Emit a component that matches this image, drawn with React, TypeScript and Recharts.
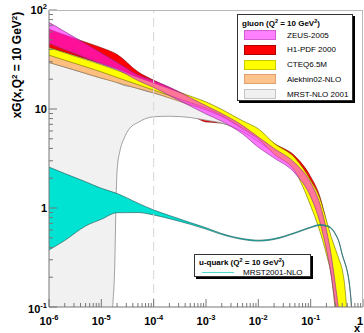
import React from 'react';
import { ComposedChart, Area, XAxis, YAxis, ReferenceLine } from 'recharts';

// gluon xG(x, Q^2 = 10 GeV^2): bands (low / high edge)
const gluonX = [1e-6, 2e-6, 5e-6, 1e-5, 2e-5, 5e-5, 1e-4, 2e-4, 5e-4, 1e-3, 2e-3, 5e-3, 1e-2, 2e-2, 5e-2, 0.1, 0.15, 0.2, 0.25, 0.3, 0.35, 0.4, 0.45, 0.5];

const zeusLow = [46, 39.8, 32.9, 28.5, 25, 19.4, 16.5, 13.7, 10.7, 8.9, 7.5, 5.6, 4.1, 3.2, 2.25, 1.3, 0.72, 0.38, 0.2, 0.095, 0.04, 0.02, 0.01, 0.005];
const zeusHigh = [75, 60.5, 45.6, 36.8, 29.5, 22.1, 19.3, 16.6, 13.0, 10.8, 9.0, 6.8, 5.2, 4.0, 2.85, 1.8, 1.1, 0.6, 0.32, 0.16, 0.085, 0.04, 0.02, 0.01];

const h1Low = [42, 37.5, 32.2, 28.8, 25.5, 20.5, 15.8, 12.7, 9.0, 7.4, 7.2, 6.0, 4.8, 3.7, 2.6, 1.45, 0.85, 0.45, 0.24, 0.11, 0.05, 0.02, 0.01, 0.005];
const h1High = [64, 56, 47.3, 41.6, 35.5, 23.8, 19.5, 16.5, 13.2, 11.2, 9.4, 7.3, 6.0, 4.5, 3.35, 2.07, 1.3, 0.72, 0.4, 0.2, 0.1, 0.04, 0.02, 0.01];

const cteqLow = [35, 31.1, 26.7, 23.7, 20.8, 17.6, 15.5, 13.7, 11.6, 10.2, 8.6, 6.4, 5.0, 3.5, 2.35, 1.05, 0.58, 0.34, 0.2, 0.085, 0.04, 0.02, 0.01, 0.005];
const cteqHigh = [41.5, 36.9, 31.5, 28, 24.6, 20.8, 18.3, 16.0, 13.5, 11.8, 9.9, 7.6, 6.3, 4.5, 3.2, 1.9, 1.25, 0.75, 0.5, 0.38, 0.3, 0.24, 0.16, 0.08];

const alekhinLow = [29.5, 26.5, 22.9, 20.5, 18.5, 16.1, 14.6, 12.9, 11.0, 9.8, 8.4, 6.3, 5.0, 3.6, 2.45, 1.5, 0.92, 0.52, 0.31, 0.19, 0.12, 0.075, 0.04, 0.02];
const alekhinHigh = [37.5, 33.6, 29, 26, 23.1, 19.7, 17.5, 15.5, 13.1, 11.6, 9.7, 7.4, 6.0, 4.3, 3.05, 1.8, 1.15, 0.68, 0.42, 0.26, 0.17, 0.11, 0.07, 0.04];

// MRST gluon has its own x grid (lower edge dives below 0.1 near x ~ 1.7e-5)
const mrstX = [1e-6, 2e-6, 5e-6, 1e-5, 1.5e-5, 1.65e-5, 1.8e-5, 1.9e-5, 2e-5, 2.3e-5, 2.7e-5, 3.5e-5, 5e-5, 7e-5, 1e-4, 2e-4, 5e-4, 1e-3, 2e-3, 5e-3, 1e-2, 2e-2, 5e-2, 0.1, 0.15, 0.2, 0.25, 0.3, 0.35, 0.4, 0.45];
const mrstLow = [0.01, 0.01, 0.01, 0.01, 0.03, 0.1, 0.25, 1.0, 2.4, 3.9, 5.0, 6.4, 7.3, 8.0, 8.35, 8.45, 8.2, 7.7, 7.2, 5.9, 4.7, 3.6, 2.5, 1.45, 0.85, 0.48, 0.27, 0.15, 0.085, 0.05, 0.02];
const mrstHigh = [29.5, 26.5, 22.9, 20.5, 19.5, 19.2, 18.9, 18.7, 18.5, 17.9, 17.3, 16.9, 16.1, 15.2, 14.5, 13.1, 11.4, 10.3, 9.2, 7.0, 5.6, 4.2, 3.0, 1.75, 1.05, 0.6, 0.35, 0.2, 0.12, 0.07, 0.04];

// u-quark, MRST2001-NLO
const uX = [1e-6, 2e-6, 5e-6, 1e-5, 2e-5, 5e-5, 1e-4, 2e-4, 5e-4, 1e-3, 2e-3, 5e-3, 1e-2, 2e-2, 5e-2, 0.1, 0.15, 0.2, 0.25, 0.3, 0.35, 0.4, 0.45, 0.5, 0.55, 0.6, 0.65];
const uLow = [0.377, 0.47, 0.658, 0.769, 0.896, 0.9, 0.85, 0.78, 0.685, 0.612, 0.54, 0.481, 0.463, 0.481, 0.555, 0.631, 0.666, 0.653, 0.614, 0.535, 0.446, 0.337, 0.277, 0.228, 0.168, 0.104, 0.05];
const uHigh = [2.59, 2.23, 1.84, 1.58, 1.4, 1.12, 0.955, 0.84, 0.712, 0.632, 0.552, 0.491, 0.473, 0.491, 0.565, 0.643, 0.68, 0.667, 0.626, 0.545, 0.454, 0.343, 0.283, 0.232, 0.172, 0.106, 0.051];

const gluonNames = ['ZEUS-2005', 'H1-PDF 2000', 'CTEQ6.5M', 'Alekhin02-NLO', 'MRST-NLO 2001'];
const quarkName = 'MRST2001-NLO';

const xDecades = [1e-6, 1e-5, 1e-4, 1e-3, 1e-2, 1e-1, 1];
const yDecades = [0.1, 1, 10, 100];
const minorSteps = [2, 3, 4, 5, 6, 7, 8, 9];

const withMinor = (dec: number[]) =>
  [...dec, ...dec.slice(0, -1).flatMap((d) => minorSteps.map((m) => m * d))].sort((a, b) => a - b);
const xTicks = withMinor(xDecades);
const yTicks = withMinor(yDecades);

const FONT = '"Liberation Sans", Arial, Helvetica, sans-serif';
const AXIS = '#777';

const band = (xs: number[], lo: number[], hi: number[]) => xs.map((x, i) => ({ x, band: [lo[i], hi[i]] }));

const isDecade = (v: number) => Math.abs(Math.log10(v) - Math.round(Math.log10(v))) < 1e-6;

function DecadeText({ v, ...rest }: any) {
  const e = Math.round(Math.log10(v));
  if (e === 0) return <text {...rest}>1</text>;
  if (e === 1) return <text {...rest}>10</text>;
  return (
    <text {...rest}>
      10
      <tspan dy={-5} fontSize={7.5}>
        {String(e)}
      </tspan>
    </text>
  );
}

const XTick = (props: any) => {
  const { x, y, payload } = props;
  const v = payload.value;
  const major = isDecade(v);
  return (
    <g>
      <line x1={x} x2={x} y1={y} y2={y - (major ? 8 : 4)} stroke={AXIS} strokeWidth={1} />
      {major && (
        <DecadeText
          v={v}
          x={v === 1 ? x - 3 : x}
          y={y + 18}
          textAnchor="middle"
          fontFamily={FONT}
          fontWeight="bold"
          fontSize={11}
          fill="#000"
        />
      )}
    </g>
  );
};

const YTick = (props: any) => {
  const { x, y, payload } = props;
  const v = payload.value;
  const major = isDecade(v);
  return (
    <g>
      <line x1={x} x2={x + (major ? 8 : 4)} y1={y} y2={y} stroke={AXIS} strokeWidth={1} />
      {major && (
        <DecadeText
          v={v}
          x={x - 2}
          y={y + (v === 0.1 ? 6 : 4)}
          textAnchor="end"
          fontFamily={FONT}
          fontWeight="bold"
          fontSize={11}
          fill="#000"
        />
      )}
    </g>
  );
};

const swatches = [
  { fill: '#ff80ff', border: '#d060d0' },
  { fill: '#ff0000', border: '#b00000' },
  { fill: '#ffff00', border: '#c8c800' },
  { fill: '#ffc48c', border: '#e0a070' },
  { fill: '#f0f0f0', border: '#c4c4c4' },
];

export default function App() {
  return (
    <div style={{ position: 'relative', width: 364, height: 333, background: '#fff', fontFamily: FONT }}>
      <style>{'body{margin:0}'}</style>
      <ComposedChart width={364} height={333} margin={{ top: 10, right: 1, bottom: 0, left: 0 }}>
        <XAxis
          dataKey="x"
          type="number"
          scale="log"
          domain={[1e-6, 1]}
          allowDataOverflow
          ticks={xTicks}
          interval={0}
          tick={<XTick />}
          tickLine={false}
          tickSize={0}
          tickMargin={0}
          height={26}
          axisLine={{ stroke: AXIS }}
        />
        <YAxis
          type="number"
          scale="log"
          domain={[0.1, 100]}
          allowDataOverflow
          ticks={yTicks}
          interval={0}
          tick={<YTick />}
          tickLine={false}
          tickSize={0}
          tickMargin={0}
          width={49}
          axisLine={{ stroke: AXIS }}
        />
        <Area
          data={band(gluonX, h1Low, h1High)}
          dataKey="band"
          type="monotone"
          fill="#ff0000"
          fillOpacity={1}
          stroke="#7a0000"
          strokeWidth={0.6}
          dot={false}
          activeDot={false}
          isAnimationActive={false}
        />
        <Area
          data={band(mrstX, mrstLow, mrstHigh)}
          dataKey="band"
          type="monotone"
          fill="#f1f1f1"
          fillOpacity={1}
          stroke="#8a8a8a"
          strokeWidth={0.8}
          dot={false}
          activeDot={false}
          isAnimationActive={false}
        />
        <ReferenceLine x={1e-4} stroke="#d6d6d6" strokeWidth={1} strokeDasharray="9 5" />
        <Area
          data={band(gluonX, alekhinLow, alekhinHigh)}
          dataKey="band"
          type="monotone"
          fill="#fdbf80"
          fillOpacity={1}
          stroke="#8a6a40"
          strokeWidth={0.6}
          dot={false}
          activeDot={false}
          isAnimationActive={false}
        />
        <Area
          data={band(gluonX, cteqLow, cteqHigh)}
          dataKey="band"
          type="monotone"
          fill="#ffff00"
          fillOpacity={1}
          stroke="#6a6a00"
          strokeWidth={0.6}
          dot={false}
          activeDot={false}
          isAnimationActive={false}
        />
        <Area
          data={band(gluonX, zeusLow, zeusHigh)}
          dataKey="band"
          type="monotone"
          fill="#ff1aff"
          fillOpacity={0.6}
          stroke="#803080"
          strokeWidth={0.6}
          dot={false}
          activeDot={false}
          isAnimationActive={false}
        />
        <Area
          data={band(uX, uLow, uHigh)}
          dataKey="band"
          type="monotone"
          fill="#00e2d2"
          fillOpacity={1}
          stroke="#2d6464"
          strokeWidth={0.7}
          dot={false}
          activeDot={false}
          isAnimationActive={false}
        />
      </ComposedChart>

      {/* frame top/right */}
      <div
        style={{
          position: 'absolute',
          left: 49,
          top: 10,
          width: 314,
          height: 297,
          borderTop: '1px solid #b8b8b8',
          borderRight: '1px solid #b8b8b8',
          boxSizing: 'border-box',
          pointerEvents: 'none',
        }}
      />

      <svg width={364} height={333} style={{ position: 'absolute', left: 0, top: 0, pointerEvents: 'none' }}>
        <text
          transform="translate(21,65) rotate(-90)"
          textAnchor="middle"
          fontFamily={FONT}
          fontWeight="bold"
          fontSize={12}
        >
          xG(x,Q
          <tspan dy={-4} fontSize={8}>2</tspan>
          <tspan dy={4}> = 10 GeV</tspan>
          <tspan dy={-4} fontSize={8}>2</tspan>
          <tspan dy={4}>)</tspan>
        </text>
        <text x={357} y={332} textAnchor="middle" fontFamily={FONT} fontWeight="bold" fontSize={11}>
          x
        </text>
      </svg>

      {/* gluon legend */}
      <div
        style={{
          position: 'absolute',
          left: 237,
          top: 14,
          width: 116,
          height: 87,
          border: '1px solid #333',
          boxShadow: '2px 2px 0 #000',
          background: '#fff',
          boxSizing: 'border-box',
        }}
      >
        <div style={{ position: 'absolute', left: 4, top: 3, fontSize: 8, fontWeight: 'bold', whiteSpace: 'nowrap' }}>
          gluon (Q<sup style={{ fontSize: 5.5, verticalAlign: 3 }}>2</sup> = 10 GeV
          <sup style={{ fontSize: 5.5, verticalAlign: 3 }}>2</sup>)
        </div>
        {gluonNames.map((name, i) => (
          <React.Fragment key={name}>
            <div
              style={{
                position: 'absolute',
                left: 6,
                top: 15 + i * 14.8,
                width: 32,
                height: 10,
                background: swatches[i].fill,
                border: `1px solid ${swatches[i].border}`,
                boxSizing: 'border-box',
              }}
            />
            <div
              style={{
                position: 'absolute',
                left: 49,
                top: 14.5 + i * 14.8,
                fontSize: 8,
                lineHeight: '11px',
                whiteSpace: 'nowrap',
              }}
            >
              {name}
            </div>
          </React.Fragment>
        ))}
      </div>

      {/* u-quark legend */}
      <div
        style={{
          position: 'absolute',
          left: 194,
          top: 254,
          width: 117,
          height: 23,
          border: '1px solid #333',
          boxShadow: '2px 2px 0 #000',
          background: '#fff',
          boxSizing: 'border-box',
        }}
      >
        <div style={{ position: 'absolute', left: 4, top: 1.5, fontSize: 8, fontWeight: 'bold', whiteSpace: 'nowrap' }}>
          u-quark (Q<sup style={{ fontSize: 5.5, verticalAlign: 3 }}>2</sup> = 10 GeV
          <sup style={{ fontSize: 5.5, verticalAlign: 3 }}>2</sup>)
        </div>
        <div style={{ position: 'absolute', left: 7, top: 16.5, width: 32, height: 1, background: '#4fd8d0' }} />
        <div style={{ position: 'absolute', left: 48, top: 12, fontSize: 8, lineHeight: '11px', whiteSpace: 'nowrap' }}>
          {quarkName}
        </div>
      </div>
    </div>
  );
}
